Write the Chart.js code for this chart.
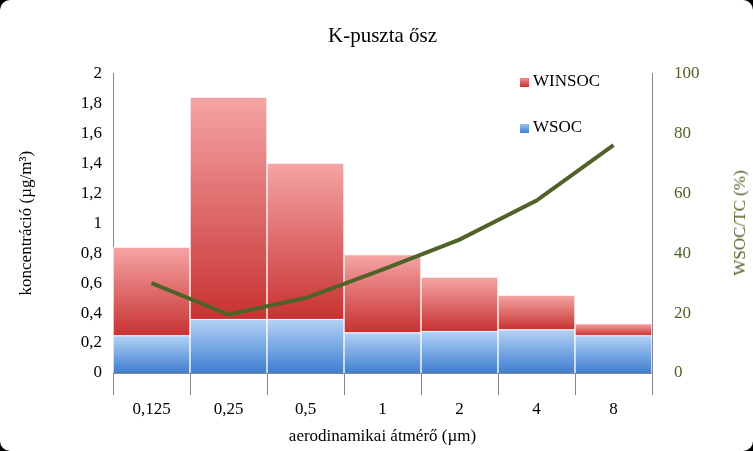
<!DOCTYPE html>
<html><head><meta charset="utf-8">
<script src="https://cdn.jsdelivr.net/npm/chart.js@4"></script>
<style>
html,body{margin:0;padding:0;background:#000;}
#box{position:absolute;left:0;top:0;width:753px;height:451px;background:#fff;border-radius:10px;overflow:hidden;}
canvas{position:absolute;left:0;top:0;}
.lg{position:absolute;font-family:'Liberation Serif',serif;font-size:17px;color:#000;}
.sw{position:absolute;width:9px;height:9px;}
#rt{position:absolute;left:740px;top:223px;transform:translate(-50%,-50%) rotate(-90deg);white-space:nowrap;font-family:'Liberation Serif',serif;font-size:17px;color:#4f6228;}
</style></head><body>
<div id="box"><canvas id="c" width="753" height="451"></canvas>
<div class="sw" style="left:520px;top:78px;background:linear-gradient(#f08c8c,#c83232)"></div>
<div class="lg" style="left:533px;top:71px">WINSOC</div>
<div class="sw" style="left:520px;top:124px;background:linear-gradient(#9cc3f0,#3f7ed0)"></div>
<div class="lg" style="left:533px;top:117px">WSOC</div>
<div id="rt">WSOC/TC (%)</div>
</div>
<script>
const categories=['0,125','0,25','0,5','1','2','4','8'];
const wsoc=[0.25,0.36,0.36,0.27,0.28,0.29,0.25];
const winsoc=[0.59,1.48,1.04,0.52,0.36,0.23,0.08];
const ratio=[30,19.5,25,34.5,44.5,57.5,76];
const ctx=document.getElementById('c').getContext('2d');
function grad(c1,c2,baseArr){return (context)=>{const ch=context.chart;const a=ch.chartArea;if(!a||context.type!=='data')return c2;
 const i=context.dataIndex;const v=context.raw;const b=baseArr?baseArr[i]:0;const s=ch.scales.y;
 const y0=s.getPixelForValue(b+v), y1=s.getPixelForValue(b);
 const g=ch.ctx.createLinearGradient(0,y0,0,y1);g.addColorStop(0,c1);g.addColorStop(1,c2);return g;};}
const serif="'Liberation Serif', serif";
new Chart(ctx,{data:{labels:categories,datasets:[
 {type:'line',data:ratio,yAxisID:'y2',borderColor:'#4f6228',borderWidth:4,pointRadius:0,tension:0,order:0},
 {type:'bar',data:wsoc,yAxisID:'y',backgroundColor:grad('#b4d3f7','#3f7ed0',null),borderColor:'#fff',borderWidth:1,order:1},
 {type:'bar',data:winsoc,yAxisID:'y',backgroundColor:grad('#f5a5a5','#c83232',wsoc),borderColor:'#fff',borderWidth:1,order:1}
]},options:{responsive:false,animation:false,
 layout:{padding:{left:12,right:0,top:24,bottom:0}},
 datasets:{bar:{categoryPercentage:1,barPercentage:1}},
 plugins:{legend:{display:false},tooltip:{enabled:false},
  title:{display:true,text:'K-puszta ősz',color:'#000',font:{family:serif,size:21,weight:'normal'},padding:{top:0,bottom:24}}},
 scales:{
  x:{stacked:true,afterFit:s=>{s.height=78},grid:{display:true,drawOnChartArea:false,drawTicks:true,tickLength:22,color:'#888',offset:true},border:{color:'#888'},
   ticks:{color:'#000',font:{family:serif,size:17},padding:4},
   title:{display:true,text:'aerodinamikai átmérő (µm)',color:'#000',font:{family:serif,size:17},padding:{top:4}}},
  y:{stacked:true,min:0,max:2,afterFit:s=>{s.width=101},grid:{display:false},border:{color:'#888'},
   ticks:{stepSize:0.2,color:'#000',font:{family:serif,size:17},callback:v=>String(Math.round(v*10)/10).replace('.',',')},
   title:{display:true,text:'koncentráció (µg/m³)',color:'#000',font:{family:serif,size:17}}},
  y2:{position:'right',min:0,max:100,afterFit:s=>{s.width=101},grid:{display:false},border:{color:'#888'},
   ticks:{stepSize:20,color:'#4f6228',font:{family:serif,size:17},padding:14}}
 }}});
</script></body></html>
